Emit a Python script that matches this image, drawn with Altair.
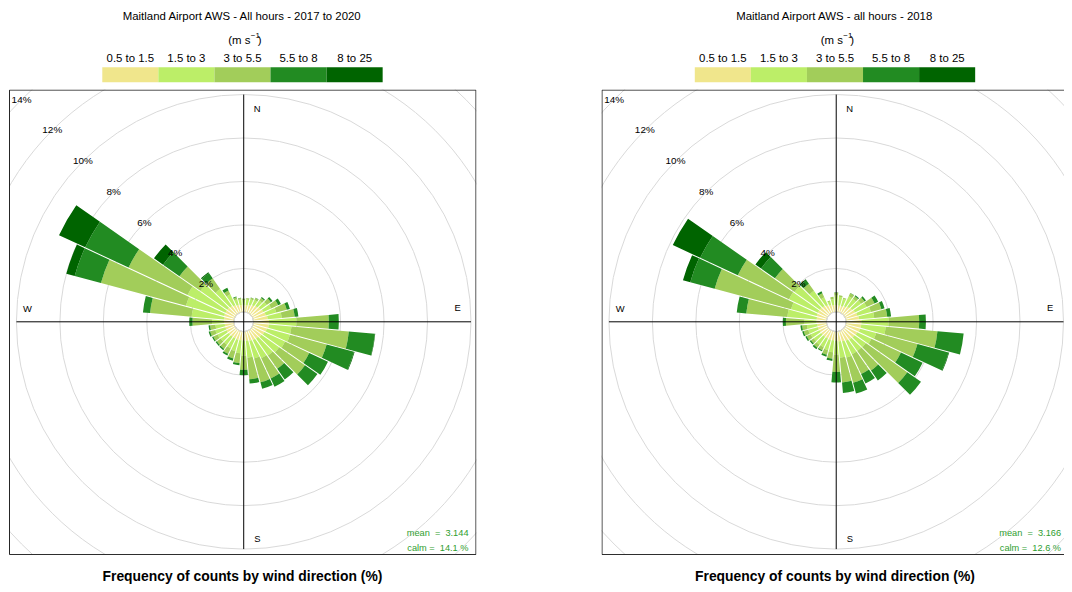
import math
import pandas as pd
import altair as alt

# ---------------- data (percent of hours, per 10-degree sector) ----------------
DIRS = list(range(10, 361, 10))
SPEEDS = ["0.5 to 1.5", "1.5 to 3", "3 to 5.5", "5.5 to 8", "8 to 25"]
COLORS = ["#F0E68C", "#BCEE68", "#A2CD5A", "#228B22", "#006400"]

# Panel A: All hours 2017 to 2020
A_S1 = [.32, .35, .40, .45, .50, .55, .60, .65, .70, .70, .65, .60, .55, .50, .48, .45, .42, .40,
        .40, .40, .40, .40, .40, .42, .42, .42, .45, .45, .48, .48, .48, .45, .40, .35, .32, .30]
A_S2 = [.26, .27, .26, .30, .35, .40, .50, .65, 1.27, 1.05, 1.10, 1.05, 1.00, .95, .92, .85, .78, .70,
        .60, .55, .50, .45, .45, .46, .48, .43, .55, 1.50, 1.82, 1.92, 1.52, .95, .55, .27, .26, .25]
A_S3 = [.06, .08, .10, .15, .23, .35, .50, .60, 1.49, 2.65, 1.75, 1.23, 1.45, .75, 1.03, 1.13, 1.00, .65,
        .45, .35, .28, .23, .22, .22, .25, .25, .90, 1.92, 4.05, 3.00, 1.17, .60, .20, .10, .07, .05]
A_S4 = [.01, .01, .02, .05, .10, .14, .15, .17, .46, 1.20, 1.30, .95, .70, .60, .42, .31, .20, .25,
        .10, .10, .09, .07, .07, .06, .07, .07, .15, .33, 1.25, 2.20, .92, .30, .13, .03, .01, .01]
A_S5 = [0, 0, 0, 0, 0, 0, 0, 0, 0, .02, .03, 0, 0, 0, 0, 0, 0, 0,
        0, 0, 0, 0, 0, 0, 0, 0, 0, 0, .40, 1.33, .51, .05, 0, 0, 0, 0]

# Panel B: all hours 2018
B_S1 = [.30, .30, .35, .40, .45, .50, .55, .60, .70, .70, .68, .62, .58, .55, .52, .48, .45, .42,
        .40, .40, .40, .40, .40, .40, .42, .42, .45, .45, .48, .48, .48, .45, .40, .35, .32, .32]
B_S2 = [.40, .35, .50, .45, .50, .60, .65, .70, 1.25, 1.13, .77, .72, .64, .65, .68, .77, .75, .63,
        .55, .50, .45, .45, .42, .45, .46, .48, .55, 1.35, 1.22, 1.47, 1.42, .85, .40, .17, .28, .43]
B_S3 = [.07, .05, .15, .15, .20, .40, .50, .60, 1.41, 2.39, 1.97, 1.50, 2.33, 1.10, 1.00, 1.20, 1.15, .80,
        .30, .22, .15, .17, .16, .20, .22, .22, .86, 1.90, 3.64, 2.60, 1.10, .40, .20, .05, .10, .13]
B_S4 = [0, 0, .02, .05, .08, .18, .15, .18, .31, 1.21, 1.48, 1.10, .77, .55, .48, .52, .48, .48,
        .10, .09, .05, .08, .07, .07, .07, .08, .14, .44, 1.16, 1.91, .78, .20, .10, 0, 0, .02]
B_S5 = [0, 0, 0, 0, 0, 0, 0, 0, 0, 0, .03, 0, 0, 0, 0, 0, 0, 0,
        0, 0, 0, 0, 0, 0, 0, 0, 0, 0, .35, 1.39, .32, .05, 0, 0, 0, 0]

RINGS = [2, 4, 6, 8, 10, 12, 14]

TITLE_A = "Maitland Airport AWS - All hours - 2017 to 2020"
TITLE_B = "Maitland Airport AWS - all hours - 2018"
MEAN_A, CALM_A = "3.144", "14.1"
MEAN_B, CALM_B = "3.166", "12.6"

# ---------------- layout / style ----------------
FONT = "Liberation Sans"
R0, K = 10.0, 21.9          # hole radius (px) and px per percent
H = 469
CX, CY = 236.5, 234.0
AXLEN = R0 + 10 * K

theta_sc = alt.Scale(domain=[0, 360], range=[0, 2 * math.pi], zero=False, nice=False)
r_sc = alt.Scale(type="linear", domain=[0, 16], range=[R0, R0 + 16 * K], zero=False, nice=False)
col_sc = alt.Scale(domain=SPEEDS, range=COLORS)


def rose_table(bins):
    rows = []
    for i, d in enumerate(DIRS):
        lo = 0.0
        for j, vals in enumerate(bins):
            v = vals[i]
            if v > 0:
                rows.append({"dir": d, "speed": SPEEDS[j], "lo": lo, "hi": lo + v})
            lo += v
    return pd.DataFrame(rows)


one = pd.DataFrame({"k": [0]})


def txt(s, x, y, size=11.5, weight="normal", color="black", align="center"):
    return alt.Chart(one).mark_text(
        text=s, font=FONT, fontSize=size, fontWeight=weight, color=color,
        align=align, baseline="middle"
    ).encode(x=alt.value(x), y=alt.value(y))


def panel(bins, title, mean_v, calm_v, W, frame_x2):
    px_sc = alt.Scale(domain=[0, W], range=[0, W], zero=False, nice=False)
    df = rose_table(bins)
    rings_df = pd.DataFrame({"p": RINGS, "lab": [f"{p}%" for p in RINGS]})

    rings = alt.Chart(rings_df).transform_calculate(t0="0", t1="360").mark_arc(
        filled=False, stroke="#d9d9d9", strokeWidth=1, clip=True
    ).encode(
        theta=alt.Theta("t0:Q", scale=theta_sc, stack=None),
        theta2="t1:Q",
        radius=alt.Radius("p:Q", scale=r_sc, stack=None),
        x=alt.value(CX), y=alt.value(CY),
    )

    bars = alt.Chart(df).transform_calculate(
        t0="datum.dir - 5", t1="datum.dir + 5",
        pad=f"1.0/sqrt(pow({R0}+{K}*datum.lo,2)+pow({R0}+{K}*datum.hi,2))",
    ).mark_arc(clip=True, padAngle={"expr": "datum.pad"}).encode(
        theta=alt.Theta("t0:Q", scale=theta_sc, stack=None),
        theta2="t1:Q",
        radius=alt.Radius("hi:Q", scale=r_sc, stack=None),
        radius2="lo:Q",
        color=alt.Color("speed:N", scale=col_sc, legend=None),
        x=alt.value(CX), y=alt.value(CY),
    )

    vline = alt.Chart(one).mark_rule(color="black", strokeWidth=1).encode(
        x=alt.value(CX), y=alt.value(CY - AXLEN), y2=alt.value(CY + AXLEN))
    hline = alt.Chart(one).mark_rule(color="black", strokeWidth=1).encode(
        x=alt.value(CX - AXLEN), x2=alt.value(CX + AXLEN), y=alt.value(CY))

    ring_labels = alt.Chart(rings_df).transform_calculate(ang="315").mark_text(
        font=FONT, fontSize=10, color="black"
    ).encode(
        theta=alt.Theta("ang:Q", scale=theta_sc, stack=None),
        radius=alt.Radius("p:Q", scale=r_sc, stack=None),
        text="lab:N",
        x=alt.value(CX), y=alt.value(CY),
    )

    frame = alt.Chart(one).mark_rect(
        filled=False, stroke="#222222", strokeWidth=1, clip=True
    ).encode(x=alt.value(0.5), x2=alt.value(frame_x2), y=alt.value(0.5), y2=alt.value(H - 0.5))

    leg_df = pd.DataFrame({"speed": SPEEDS, "i": list(range(len(SPEEDS)))})
    leg_rects = alt.Chart(leg_df).transform_calculate(
        x0="94 + datum.i*56.5", x1="94 + (datum.i+1)*56.5"
    ).mark_rect().encode(
        x=alt.X("x0:Q", scale=px_sc, axis=None), x2="x1:Q",
        y=alt.value(-22.5), y2=alt.value(-7.5),
        color=alt.Color("speed:N", scale=col_sc, legend=None),
    )
    leg_labels = alt.Chart(leg_df).transform_calculate(
        xc="94 + (datum.i+0.5)*56.5"
    ).mark_text(font=FONT, fontSize=11.5, color="black", baseline="middle").encode(
        x=alt.X("xc:Q", scale=px_sc, axis=None), y=alt.value(-30.5), text="speed:N"
    )

    texts = [
        txt(title, 234.5, -73.2),
        txt("(m s", 243.3, -48.5, align="right"),
        txt("\u22121", 243.6, -53.5, size=8, align="left"),
        txt(")", 250.6, -48.5, align="left"),
        txt("N", 250, 19.5, size=9.5),
        txt("E", 452, 220.5, size=9.5),
        txt("S", 250.3, 452.8, size=9.5),
        txt("W", 18.7, 221.2, size=9.5),
        txt("mean\u00a0\u00a0=\u00a0\u00a0" + mean_v, 463, 446.5, size=9.3, color="#2f9e2f", align="right"),
        txt("calm\u00a0=\u00a0\u00a0" + calm_v + "\u00a0%", 463, 461.5, size=9.3, color="#2f9e2f", align="right"),
        txt("Frequency of counts by wind direction (%)", 235.2, H + 22, size=14, weight="bold"),
    ]

    return alt.layer(rings, bars, vline, hline, ring_labels, frame, leg_rects, leg_labels, *texts).properties(
        width=W, height=H
    )


left = panel([A_S1, A_S2, A_S3, A_S4, A_S5], TITLE_A, MEAN_A, CALM_A, 471, 470.5)
right = panel([B_S1, B_S2, B_S3, B_S4, B_S5], TITLE_B, MEAN_B, CALM_B, 466, 500)

chart = alt.hconcat(left, right, spacing=126, bounds="flush").properties(
    padding={"left": 1, "top": 0, "right": 0, "bottom": 0}
).configure_view(strokeWidth=0)

chart.save("out.html", embed_options={"renderer": "svg", "actions": False})
